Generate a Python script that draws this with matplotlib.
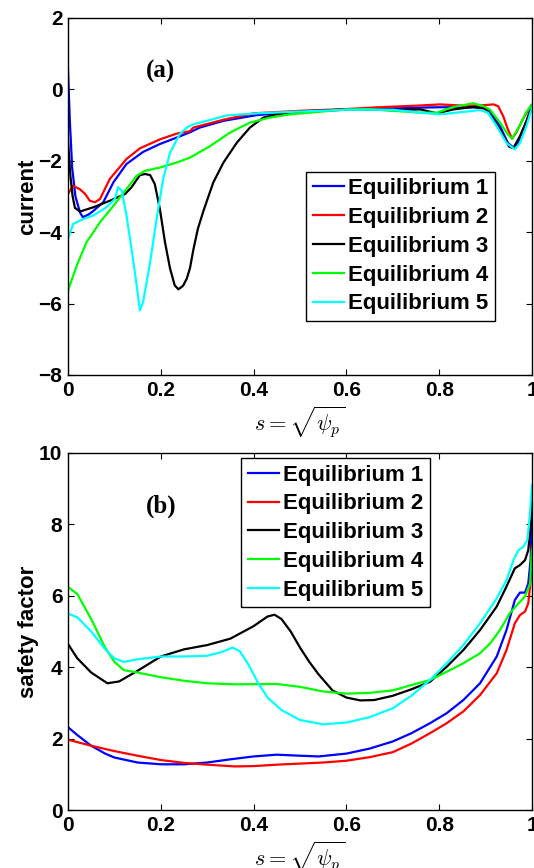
import matplotlib
matplotlib.use("Agg")
import matplotlib.pyplot as plt

plt.rcParams['font.family'] = ['Liberation Sans', 'DejaVu Sans']
plt.rcParams['font.weight'] = 'bold'
plt.rcParams['mathtext.fontset'] = 'cm'

labels = ["Equilibrium 1", "Equilibrium 2", "Equilibrium 3", "Equilibrium 4", "Equilibrium 5"]
colors = ["#0000ff", "#ff0000", "#000000", "#00ff00", "#00ffff"]

# ---- (a) current ----
s_cur1 = [0, 0.004, 0.009, 0.016, 0.026, 0.032, 0.045, 0.055, 0.076, 0.098, 0.126, 0.162, 0.198, 0.234,
          0.263, 0.284, 0.335, 0.407, 0.5, 0.6, 0.7, 0.76, 0.8, 0.85, 0.895, 0.909, 0.931, 0.948, 0.963,
          0.973, 0.987, 1.0]
cur1 = [0.55, -0.9, -2.2, -3.0, -3.45, -3.58, -3.5, -3.4, -3.16, -2.6, -2.09, -1.75, -1.53, -1.35,
        -1.2, -1.07, -0.88, -0.72, -0.62, -0.57, -0.53, -0.51, -0.5, -0.5, -0.51, -0.61, -1.03, -1.5, -1.66,
        -1.4, -0.93, -0.47]

s_cur2 = [0, 0.011, 0.026, 0.037, 0.047, 0.058, 0.069, 0.09, 0.126, 0.155, 0.198, 0.234, 0.263, 0.27,
          0.335, 0.4, 0.5, 0.6, 0.67, 0.76, 0.802, 0.845, 0.888, 0.917, 0.927, 0.938, 0.948, 0.957,
          0.966, 0.98, 0.998]
cur2 = [-2.93, -2.7, -2.8, -2.93, -3.12, -3.16, -3.07, -2.51, -1.95, -1.65, -1.4, -1.24, -1.17, -1.07,
        -0.85, -0.67, -0.6, -0.55, -0.5, -0.45, -0.42, -0.45, -0.45, -0.42, -0.47, -0.75, -1.12, -1.38,
        -1.21, -0.84, -0.45]

s_cur3 = [0, 0.005, 0.01, 0.015, 0.026, 0.055, 0.09, 0.123, 0.137, 0.155, 0.166, 0.177, 0.187, 0.198,
          0.209, 0.22, 0.23, 0.238, 0.248, 0.256, 0.263, 0.27, 0.28, 0.292, 0.313, 0.335, 0.364, 0.392,
          0.421, 0.45, 0.514, 0.6, 0.7, 0.759, 0.795, 0.831, 0.874, 0.899, 0.917, 0.935, 0.951, 0.96,
          0.974, 0.988, 1.0]
cur3 = [-1.44, -2.4, -3.0, -3.32, -3.42, -3.3, -3.12, -2.93, -2.74, -2.4, -2.37, -2.4, -2.65, -3.35,
        -4.28, -5.02, -5.49, -5.6, -5.5, -5.3, -5.0, -4.5, -3.9, -3.4, -2.61, -2.05, -1.49, -1.07,
        -0.79, -0.7, -0.61, -0.56, -0.58, -0.56, -0.67, -0.56, -0.49, -0.54, -0.84, -1.21, -1.61, -1.64,
        -1.31, -0.89, -0.47]

s_cur4 = [0, 0.019, 0.04, 0.069, 0.098, 0.126, 0.148, 0.166, 0.198, 0.234, 0.263, 0.306, 0.349, 0.392,
          0.435, 0.478, 0.522, 0.6, 0.65, 0.7, 0.759, 0.795, 0.831, 0.874, 0.895, 0.909, 0.931, 0.948,
          0.957, 0.973, 0.987, 1.0]
cur4 = [-5.63, -4.93, -4.28, -3.72, -3.26, -2.79, -2.42, -2.28, -2.19, -2.05, -1.91, -1.59, -1.21, -0.93,
        -0.79, -0.7, -0.65, -0.56, -0.55, -0.6, -0.65, -0.65, -0.49, -0.39, -0.47, -0.56, -0.93, -1.26,
        -1.38, -1.03, -0.65, -0.42]

s_cur5 = [0, 0.011, 0.033, 0.055, 0.083, 0.101, 0.108, 0.116, 0.126, 0.137, 0.148, 0.155, 0.162, 0.177,
          0.191, 0.205, 0.22, 0.241, 0.258, 0.27, 0.342, 0.407, 0.5, 0.6, 0.7, 0.759, 0.802, 0.845,
          0.888, 0.905, 0.924, 0.945, 0.963, 0.974, 0.988, 1.0]
cur5 = [-4.19, -3.77, -3.63, -3.53, -3.3, -3.07, -2.74, -2.84, -3.53, -4.47, -5.49, -6.19, -5.95, -4.84,
        -3.63, -2.51, -1.77, -1.25, -1.05, -0.98, -0.73, -0.67, -0.62, -0.57, -0.57, -0.65, -0.7, -0.64,
        -0.58, -0.65, -1.03, -1.5, -1.68, -1.5, -1.03, -0.51]

# ---- (b) safety factor ----
s_q1 = [0, 0.02, 0.05, 0.08, 0.1, 0.15, 0.2, 0.25, 0.3, 0.35, 0.4, 0.45, 0.5, 0.54, 0.6, 0.65, 0.7,
        0.74, 0.78, 0.816, 0.852, 0.888, 0.924, 0.945, 0.963, 0.974, 0.985, 0.992, 0.997, 1.0]
q1 = [2.32, 2.1, 1.8, 1.58, 1.47, 1.33, 1.28, 1.28, 1.33, 1.42, 1.5, 1.55, 1.52, 1.5, 1.58, 1.72, 1.92,
      2.15, 2.43, 2.71, 3.08, 3.55, 4.3, 5.04, 5.88, 6.09, 6.09, 6.35, 7.0, 8.3]

s_q2 = [0, 0.05, 0.1, 0.15, 0.2, 0.25, 0.3, 0.36, 0.4, 0.45, 0.5, 0.55, 0.6, 0.65, 0.7, 0.74, 0.78, 0.816,
        0.852, 0.888, 0.924, 0.945, 0.963, 0.974, 0.985, 0.992, 0.998, 1.0]
q2 = [1.97, 1.8, 1.65, 1.52, 1.4, 1.32, 1.27, 1.22, 1.23, 1.27, 1.3, 1.33, 1.38, 1.48, 1.62, 1.86, 2.15,
      2.43, 2.76, 3.22, 3.83, 4.48, 5.23, 5.46, 5.56, 5.79, 6.54, 7.4]

s_q3 = [0, 0.02, 0.05, 0.085, 0.11, 0.15, 0.2, 0.25, 0.3, 0.35, 0.4, 0.43, 0.445, 0.46, 0.48, 0.5, 0.52,
        0.54, 0.57, 0.6, 0.63, 0.66, 0.7, 0.74, 0.78, 0.816, 0.852, 0.888, 0.924, 0.945, 0.963, 0.974,
        0.985, 0.992, 0.999, 1.0]
q3 = [4.65, 4.25, 3.85, 3.55, 3.6, 3.9, 4.3, 4.5, 4.62, 4.8, 5.15, 5.42, 5.47, 5.35, 5.0, 4.55, 4.15,
      3.8, 3.35, 3.15, 3.07, 3.08, 3.2, 3.38, 3.59, 4.01, 4.48, 5.04, 5.7, 6.26, 6.77, 6.86, 7.0,
      7.28, 8.2, 8.6]

s_q4 = [0, 0.02, 0.05, 0.08, 0.1, 0.12, 0.15, 0.2, 0.25, 0.3, 0.36, 0.45, 0.5, 0.55, 0.6, 0.65, 0.7,
        0.74, 0.78, 0.816, 0.852, 0.888, 0.91, 0.931, 0.952, 0.971, 0.985, 0.996, 1.0]
q4 = [6.25, 6.05, 5.35, 4.55, 4.15, 3.92, 3.85, 3.72, 3.62, 3.55, 3.52, 3.53, 3.45, 3.32, 3.26, 3.28,
      3.35, 3.5, 3.64, 3.87, 4.11, 4.39, 4.67, 5.04, 5.51, 5.79, 5.98, 6.35, 7.3]

s_q5 = [0, 0.02, 0.05, 0.08, 0.1, 0.12, 0.15, 0.2, 0.25, 0.3, 0.33, 0.355, 0.37, 0.39, 0.41, 0.43, 0.46,
        0.5, 0.55, 0.6, 0.65, 0.7, 0.74, 0.78, 0.816, 0.852, 0.888, 0.924, 0.945, 0.96, 0.971, 0.981,
        0.99, 0.995, 1.0]
q5 = [5.5, 5.4, 5.0, 4.5, 4.25, 4.15, 4.22, 4.3, 4.3, 4.32, 4.42, 4.55, 4.45, 4.05, 3.55, 3.15, 2.8,
      2.52, 2.4, 2.45, 2.6, 2.85, 3.2, 3.64, 4.11, 4.62, 5.23, 5.93, 6.44, 7.0, 7.28, 7.37, 7.56,
      8.21, 9.1]

x_ticks = [0, 0.2, 0.4, 0.6, 0.8, 1]
x_ticklabels = ["0", "0.2", "0.4", "0.6", "0.8", "1"]
cur_ticks = [-8, -6, -4, -2, 0, 2]
q_ticks = [0, 2, 4, 6, 8, 10]

fig = plt.figure(figsize=(5.34, 8.68), dpi=100)
W, H = 534.0, 868.0
ax1 = fig.add_axes([68 / W, 1 - 375 / H, 464 / W, 357 / H])
ax2 = fig.add_axes([68 / W, 1 - 810 / H, 464 / W, 357 / H])

for s, y, c, l in zip([s_cur1, s_cur2, s_cur3, s_cur4, s_cur5], [cur1, cur2, cur3, cur4, cur5], colors, labels):
    ax1.plot(s, y, color=c, lw=1.6, label=l)
for s, y, c, l in zip([s_q1, s_q2, s_q3, s_q4, s_q5], [q1, q2, q3, q4, q5], colors, labels):
    ax2.plot(s, y, color=c, lw=1.6, label=l)

for ax, yt, ylim, ylab in [(ax1, cur_ticks, (-8, 2), "current"), (ax2, q_ticks, (0, 10), "safety factor")]:
    ax.set_xlim(0, 1)
    ax.set_ylim(*ylim)
    ax.set_xticks(x_ticks)
    ax.set_xticklabels(x_ticklabels)
    ax.set_yticks(yt)
    ax.tick_params(direction='in', top=True, right=True, length=4, width=0.8, labelsize=15, pad=4)
    for lab in ax.get_xticklabels() + ax.get_yticklabels():
        lab.set_fontweight('bold')
    for sp in ax.spines.values():
        sp.set_linewidth(1.0)
    ax.set_ylabel(ylab, fontsize=16, fontweight='bold', labelpad=0)
    ax.set_xlabel(r'$s=\sqrt{\psi_p}$', fontsize=16, labelpad=4)

ax1.text(0.2, 0.5, "(a)", fontsize=18, fontweight='bold', family='Liberation Serif', ha='center', va='center')
ax2.text(0.2, 8.5, "(b)", fontsize=18, fontweight='bold', family='Liberation Serif', ha='center', va='center')

leg_kw = dict(fontsize=16, frameon=True, fancybox=False, handlelength=1.4, handletextpad=0.2,
              borderpad=0.3, labelspacing=0.35, borderaxespad=0, framealpha=1)
lg1 = ax1.legend(loc='lower right', bbox_to_anchor=((495 - 68) / 464, (375 - 321) / 357), **leg_kw)
lg2 = ax2.legend(loc='upper left', bbox_to_anchor=((241 - 68) / 464, (810 - 458) / 357), **leg_kw)
for lg in (lg1, lg2):
    lg.get_frame().set_edgecolor('black')
    lg.get_frame().set_linewidth(1.0)
    for t in lg.get_texts():
        t.set_fontweight('bold')

fig.savefig("out.png", dpi=100)
